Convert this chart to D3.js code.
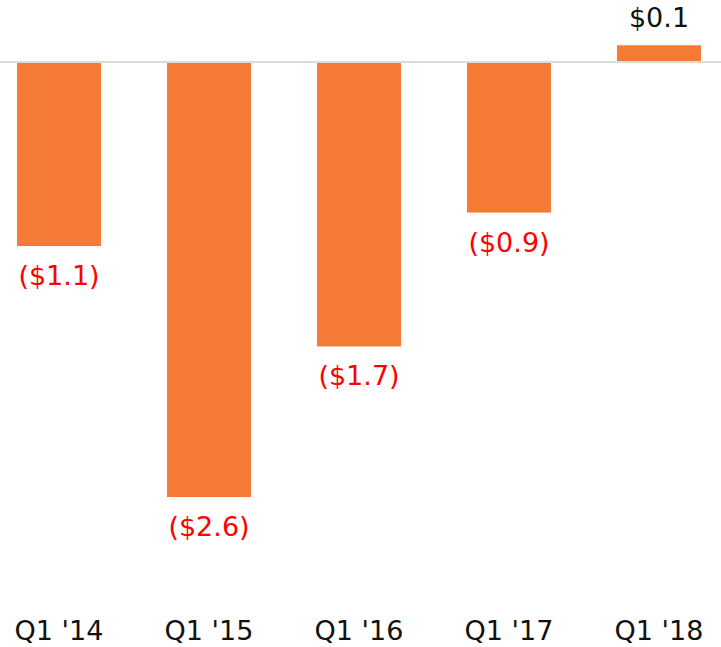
<!DOCTYPE html>
<html>
<head>
<meta charset="utf-8">
<script src="https://cdn.jsdelivr.net/npm/d3@7"></script>
<style>
  body { margin: 0; background: #fff; }
  svg { display: block; }
</style>
</head>
<body>
<svg id="chart" width="721" height="647"></svg>
<script>
const quarters = ["Q1 '14", "Q1 '15", "Q1 '16", "Q1 '17", "Q1 '18"];
const values = [-1.1, -2.6, -1.7, -0.9, 0.1];

const width = 721, height = 647;
const svg = d3.select('#chart');

const xScale = d3.scaleBand()
    .domain(quarters)
    .range([-16, 734])
    .paddingInner(0.44)
    .paddingOuter(0.22);

const yScale = d3.scaleLinear()
    .domain([0, -2.6])
    .range([62, 497]);

function formatValue(v) {
    return v < 0 ? `($${Math.abs(v).toFixed(1)})` : `$${v.toFixed(1)}`;
}

svg.selectAll('.bar')
    .data(values)
    .join('rect')
        .classed('bar', true)
        .attr('x', (d, i) => xScale(quarters[i]))
        .attr('y', d => yScale(Math.max(0, d)))
        .attr('width', xScale.bandwidth())
        .attr('height', d => Math.abs(yScale(d) - yScale(0)))
        .style('fill', '#f47a35');

// zero line
svg.append('line')
    .attr('x1', 0)
    .attr('x2', width)
    .attr('y1', yScale(0))
    .attr('y2', yScale(0))
    .style('stroke', '#dcdcdc')
    .style('stroke-width', 2);

svg.selectAll('.valueLabel')
    .data(values)
    .join('text')
        .classed('valueLabel', true)
        .attr('x', (d, i) => xScale(quarters[i]) + xScale.bandwidth() / 2)
        .attr('y', d => d < 0 ? yScale(d) + 39 : yScale(d) - 18)
        .style('text-anchor', 'middle')
        .style('font-family', '"DejaVu Sans", sans-serif')
        .style('font-size', '27px')
        .style('fill', d => d < 0 ? '#ff0000' : '#111')
        .text(formatValue);

svg.selectAll('.quarterLabel')
    .data(quarters)
    .join('text')
        .classed('quarterLabel', true)
        .attr('x', d => xScale(d) + xScale.bandwidth() / 2)
        .attr('y', 640)
        .style('text-anchor', 'middle')
        .style('font-family', '"DejaVu Sans", sans-serif')
        .style('font-size', '27px')
        .style('fill', '#111')
        .text(d => d);
</script>
</body>
</html>
